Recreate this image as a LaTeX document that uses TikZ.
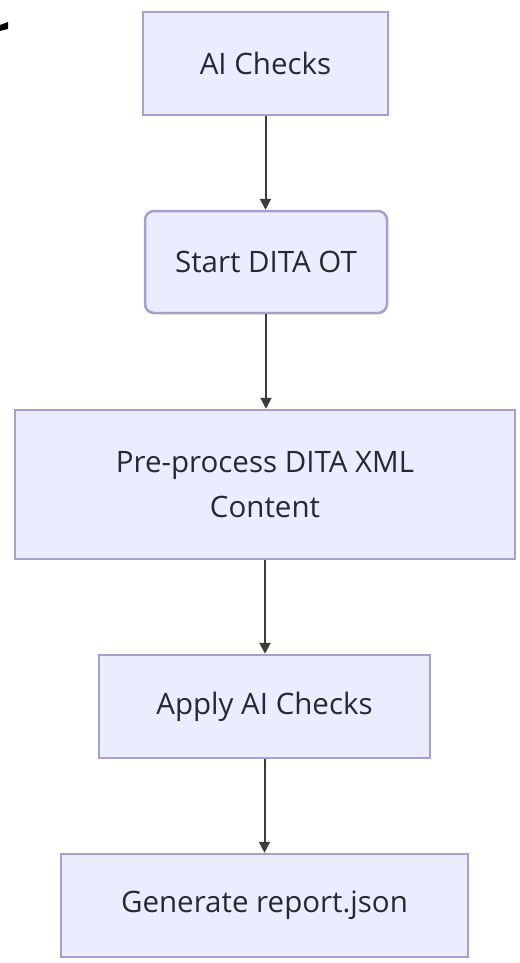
\documentclass[tikz,border=0pt]{standalone}
\usepackage{fontspec}
\setmainfont{Open Sans}
\usetikzlibrary{arrows.meta}
\begin{document}
\begin{tikzpicture}[x=1pt,y=-1pt,
  box/.style={draw=boxline, fill=boxfill, line width=2.5pt, inner sep=0pt,
    font=\fontsize{29.5}{45}\selectfont, text=textcol, align=center},
  link/.style={draw=linkcol, line width=2pt, -{Triangle[length=11pt,width=11pt]}}]
\definecolor{boxline}{RGB}{165,160,205}
\definecolor{boxfill}{RGB}{236,236,255}
\definecolor{textcol}{RGB}{40,40,50}
\definecolor{linkcol}{RGB}{60,60,60}
\fill[white] (0,0) rectangle (519,963);
\useasboundingbox (0,0) rectangle (519,963);
\fill[black] (0,25) -- (8,22) -- (8,29) -- (0,31) -- cycle;
\node[box, minimum width=245pt, minimum height=103pt] (a) at (265.5,63.5) {AI Checks};
\node[box, rounded corners=9pt, minimum width=242pt, minimum height=102pt] (b) at (266,262) {Start DITA OT};
\node[box, minimum width=500pt, minimum height=149pt] (c) at (265,484.5) {Pre-process DITA XML\\Content};
\node[box, minimum width=331pt, minimum height=103pt] (d) at (264.5,706.5) {Apply AI Checks};
\node[box, minimum width=407pt, minimum height=103pt] (e) at (264.5,905.5) {Generate report.json};
\draw[link] (a) -- (a |- b.north);
\draw[link] (b) -- (b |- c.north);
\draw[link] (c) -- (c |- d.north);
\draw[link] (d) -- (d |- e.north);
\end{tikzpicture}
\end{document}
